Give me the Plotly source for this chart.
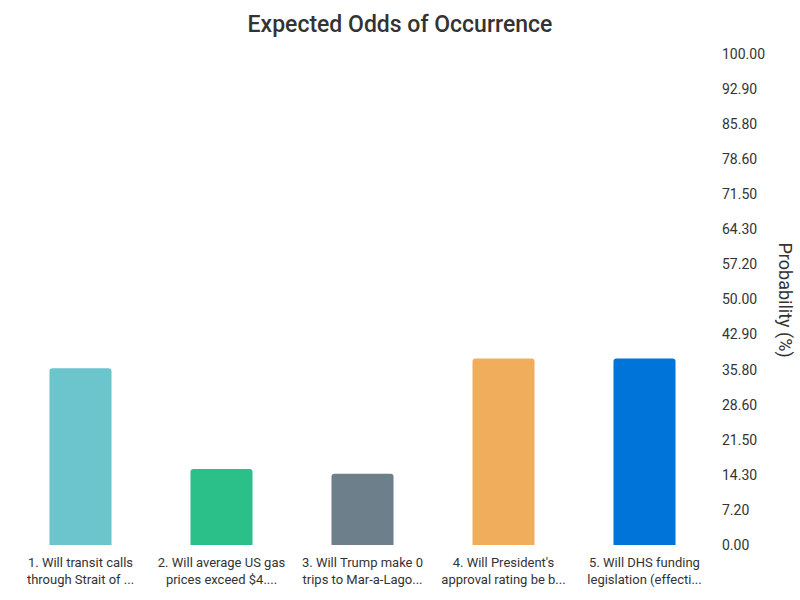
import plotly.graph_objects as go

categories = [
    "1. Will transit calls<br>through Strait of ...",
    "2. Will average US gas<br>prices exceed $4....",
    "3. Will Trump make 0<br>trips to Mar-a-Lago...",
    "4. Will President's<br>approval rating be b...",
    "5. Will DHS funding<br>legislation (effecti...",
]
probabilities = [36.0, 15.5, 14.5, 38.0, 38.0]
bar_colors = ["#6CC4CC", "#2BC08A", "#6E7F8C", "#F0AD5C", "#0074D9"]
tick_labels = ["0.00", "7.20", "14.30", "21.50", "28.60", "35.80", "42.90", "50.00",
               "57.20", "64.30", "71.50", "78.60", "85.80", "92.90", "100.00"]
tick_values = [i * 100 / 14 for i in range(len(tick_labels))]

fig = go.Figure(go.Bar(
    x=categories,
    y=probabilities,
    marker=dict(color=bar_colors, cornerradius=3, line=dict(width=0)),
    width=0.44,
))

fig.update_layout(
    width=800, height=600,
    paper_bgcolor="white", plot_bgcolor="white",
    font=dict(family="Roboto", color="#333333"),
    title=dict(text="Expected Odds of Occurrence", x=0.5, xanchor="center",
               y=0.96, yanchor="middle", yref="container",
               font=dict(size=23, family="Roboto", color="#333333", weight=500)),
    margin=dict(l=10, r=85, t=54, b=55, autoexpand=False),
    showlegend=False,
    xaxis=dict(showgrid=False, showline=False, zeroline=False, ticks="",
               automargin=False, ticklabelstandoff=8,
               tickfont=dict(size=13, color="#333333"), tickangle=0),
    yaxis=dict(side="right", range=[0, 100], tickvals=tick_values, ticktext=tick_labels,
               automargin=False, ticklabelstandoff=6,
               showgrid=False, zeroline=False, showline=False, ticks="",
               tickfont=dict(size=14, color="#333333")),
    annotations=[dict(text="Probability (%)", textangle=90, xref="paper", yref="paper",
                      x=1.0, xshift=83, y=0.5, yshift=0, showarrow=False,
                      font=dict(size=18, color="#333333", family="Roboto"))],
)

fig.write_html("out.html", config={"displayModeBar": False},
               post_script="document.body.style.margin='0';document.body.style.overflow='hidden';")
